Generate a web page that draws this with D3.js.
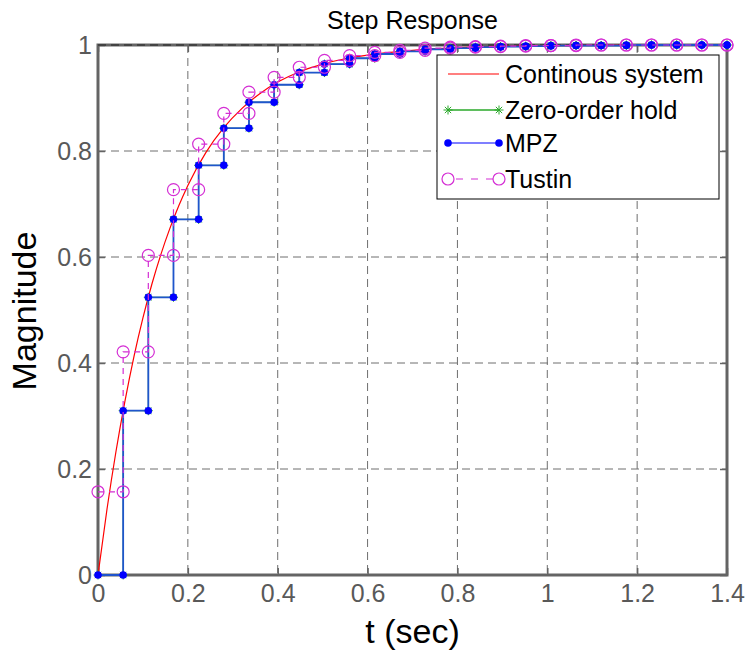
<!DOCTYPE html>
<html>
<head>
<meta charset="utf-8">
<script src="https://cdn.jsdelivr.net/npm/d3@7"></script>
<style>
  body { margin: 0; background: #fff; }
  text { font-family: "Liberation Sans", Arial, sans-serif; }
</style>
</head>
<body>
<div id="chart"></div>
<script>
// sample instants (T = 0.056 s)
var sampleT = [0, 0.056, 0.112, 0.168, 0.224, 0.28, 0.336, 0.392, 0.448, 0.504, 0.56, 0.616, 0.672,
  0.728, 0.784, 0.84, 0.896, 0.952, 1.008, 1.064, 1.12, 1.176, 1.232, 1.288, 1.344, 1.4];

var zohValues = [0, 0.31, 0.524, 0.671, 0.773, 0.843, 0.892, 0.925, 0.948, 0.964, 0.975, 0.983, 0.988,
  0.992, 0.994, 0.996, 0.997, 0.998, 0.999, 0.999, 0.999, 1, 1, 1, 1, 1];

var mpzValues = [0, 0.31, 0.524, 0.671, 0.773, 0.843, 0.892, 0.925, 0.948, 0.964, 0.975, 0.983, 0.988,
  0.992, 0.994, 0.996, 0.997, 0.998, 0.999, 0.999, 0.999, 1, 1, 1, 1, 1];

var tustinValues = [0.157, 0.421, 0.603, 0.727, 0.813, 0.871, 0.911, 0.939, 0.958, 0.971, 0.98, 0.986, 0.99,
  0.994, 0.996, 0.997, 0.998, 0.999, 0.999, 1, 1, 1, 1, 1, 1, 1];

// continuous response
var contT = [0, 0.02, 0.04, 0.06, 0.08, 0.1, 0.12, 0.14, 0.16, 0.18, 0.2, 0.24, 0.28, 0.32, 0.36, 0.4,
  0.45, 0.5, 0.55, 0.6, 0.7, 0.8, 0.9, 1.0, 1.2, 1.4];
var contValues = [0, 0.124, 0.233, 0.328, 0.412, 0.485, 0.549, 0.605, 0.654, 0.697, 0.735, 0.797, 0.844,
  0.88, 0.908, 0.93, 0.95, 0.964, 0.974, 0.981, 0.99, 0.995, 0.9975, 0.9987, 0.9997, 1];

var xTicks = [0, 0.2, 0.4, 0.6, 0.8, 1, 1.2, 1.4];
var xTickLabels = ["0", "0.2", "0.4", "0.6", "0.8", "1", "1.2", "1.4"];
var yTicks = [0, 0.2, 0.4, 0.6, 0.8, 1];
var yTickLabels = ["0", "0.2", "0.4", "0.6", "0.8", "1"];

var legendNames = ["Continous system", "Zero-order hold", "MPZ", "Tustin"];

var W = 746, H = 651;
var margin = {top: 45, right: 19, bottom: 76, left: 98},
  width = W - margin.left - margin.right,
  height = H - margin.top - margin.bottom;

var svg = d3.select("#chart").append("svg")
  .attr("width", W)
  .attr("height", H);

var g = svg.append("g")
  .attr("transform", "translate(" + margin.left + "," + margin.top + ")");

var x = d3.scaleLinear().domain([0, 1.4]).range([0, width]);
var y = d3.scaleLinear().domain([0, 1]).range([height, 0]);

var axisGray = "#646464";

// grid
g.append("g").selectAll("line")
  .data(xTicks).enter().append("line")
  .attr("x1", function(d) { return x(d); })
  .attr("x2", function(d) { return x(d); })
  .attr("y1", 0).attr("y2", height)
  .style("stroke", "#6e6e6e").style("stroke-width", 1)
  .style("stroke-dasharray", "8,5");

g.append("g").selectAll("line")
  .data(yTicks).enter().append("line")
  .attr("x1", 0).attr("x2", width)
  .attr("y1", function(d) { return y(d); })
  .attr("y2", function(d) { return y(d); })
  .style("stroke", "#6e6e6e").style("stroke-width", 1)
  .style("stroke-dasharray", "8,5");

// axes (ticks point inward)
g.append("g")
  .attr("transform", "translate(0," + height + ")")
  .call(d3.axisBottom(x).tickValues(xTicks)
    .tickFormat(function(d, i) { return xTickLabels[i]; })
    .tickSize(-7).tickPadding(9));

g.append("g")
  .call(d3.axisLeft(y).tickValues(yTicks)
    .tickFormat(function(d, i) { return yTickLabels[i]; })
    .tickSize(-7).tickPadding(6));

g.append("g")
  .call(d3.axisTop(x).tickValues(xTicks).tickFormat("").tickSize(-7));

g.append("g")
  .attr("transform", "translate(" + width + ",0)")
  .call(d3.axisRight(y).tickValues(yTicks).tickFormat("").tickSize(-7));

g.selectAll(".domain").remove();
g.selectAll(".tick line").style("stroke", axisGray).style("stroke-width", 1.5);
g.selectAll(".tick text")
  .style("font-size", "25px")
  .style("fill", "#595959")
  .style("font-family", "Liberation Sans, Arial, sans-serif");

// frame
g.append("rect")
  .attr("x", 0).attr("y", 0)
  .attr("width", width).attr("height", height)
  .style("fill", "none")
  .style("stroke", axisGray)
  .style("stroke-width", 3);

g.append("line")
  .attr("x1", 0).attr("x2", width).attr("y1", 0).attr("y2", 0)
  .style("stroke", "#222").style("stroke-width", 1)
  .style("stroke-dasharray", "8,5");

// staircase vertices
function stairs(ts, vs) {
  var pts = [];
  for (var i = 0; i < ts.length; i++) {
    if (i > 0) pts.push([ts[i], vs[i - 1]]);
    pts.push([ts[i], vs[i]]);
  }
  return pts;
}

var line = d3.line()
  .x(function(d) { return x(d[0]); })
  .y(function(d) { return y(d[1]); });

var red = "#ff0000", green = "#2aa82a", blue = "#0000ff", magenta = "#d42ed4";

function starPath(s) {
  var d = s * 0.7;
  return "M" + (-s) + ",0L" + s + ",0M0," + (-s) + "L0," + s +
    "M" + (-d) + "," + (-d) + "L" + d + "," + d + "M" + (-d) + "," + d + "L" + d + "," + (-d);
}

// continuous
var contData = contT.map(function(t, i) { return [t, contValues[i]]; });
g.append("path")
  .datum(contData)
  .attr("d", d3.line().x(function(d) { return x(d[0]); }).y(function(d) { return y(d[1]); })
    .curve(d3.curveMonotoneX))
  .style("fill", "none").style("stroke", red).style("stroke-width", 1.2);

// zero-order hold
var zohPts = stairs(sampleT, zohValues);
g.append("path").datum(zohPts).attr("d", line)
  .style("fill", "none").style("stroke", green).style("stroke-width", 1);
g.append("g").selectAll("path").data(zohPts).enter().append("path")
  .attr("transform", function(d) { return "translate(" + x(d[0]) + "," + y(d[1]) + ")"; })
  .attr("d", starPath(4.5))
  .style("fill", "none").style("stroke", green).style("stroke-width", 1);

// MPZ
var mpzPts = stairs(sampleT, mpzValues);
g.append("path").datum(mpzPts).attr("d", line)
  .style("fill", "none").style("stroke", "#1f55cc").style("stroke-width", 1.8);
g.append("g").selectAll("circle").data(mpzPts).enter().append("circle")
  .attr("cx", function(d) { return x(d[0]); })
  .attr("cy", function(d) { return y(d[1]); })
  .attr("r", 3.8)
  .style("fill", blue);

// Tustin
var tusPts = stairs(sampleT, tustinValues);
g.append("path").datum(tusPts).attr("d", line)
  .style("fill", "none").style("stroke", magenta).style("stroke-width", 1.2)
  .style("stroke-dasharray", "6,5");
g.append("g").selectAll("circle").data(tusPts).enter().append("circle")
  .attr("cx", function(d) { return x(d[0]); })
  .attr("cy", function(d) { return y(d[1]); })
  .attr("r", 6)
  .style("fill", "none").style("stroke", magenta).style("stroke-width", 1.2);

// legend
var lg = svg.append("g").attr("transform", "translate(437,55)");
lg.append("rect")
  .attr("width", 282).attr("height", 144)
  .style("fill", "#fff").style("stroke", "#000").style("stroke-width", 1);

var rowY = [19, 55, 88, 124];
var lx1 = 11, lx2 = 62;

lg.selectAll("text.lab").data(legendNames).enter().append("text")
  .attr("x", 68)
  .attr("y", function(d, i) { return rowY[i]; })
  .attr("dy", "0.35em")
  .style("font-size", "25px")
  .style("fill", "#000")
  .text(function(d) { return d; });

// row 0: continuous
lg.append("line").attr("x1", lx1).attr("x2", lx2).attr("y1", rowY[0]).attr("y2", rowY[0])
  .style("stroke", red).style("stroke-width", 1.2);
// row 1: zoh
lg.append("line").attr("x1", lx1).attr("x2", lx2).attr("y1", rowY[1]).attr("y2", rowY[1])
  .style("stroke", green).style("stroke-width", 1.5);
[lx1, lx2].forEach(function(px) {
  lg.append("path").attr("transform", "translate(" + px + "," + rowY[1] + ")")
    .attr("d", starPath(4.5)).style("fill", "none").style("stroke", green).style("stroke-width", 1);
});
// row 2: mpz
lg.append("line").attr("x1", lx1).attr("x2", lx2).attr("y1", rowY[2]).attr("y2", rowY[2])
  .style("stroke", blue).style("stroke-width", 1.2);
[lx1, lx2].forEach(function(px) {
  lg.append("circle").attr("cx", px).attr("cy", rowY[2]).attr("r", 3.8).style("fill", blue);
});
// row 3: tustin
lg.append("line").attr("x1", lx1).attr("x2", lx2).attr("y1", rowY[3]).attr("y2", rowY[3])
  .style("stroke", magenta).style("stroke-width", 1.2).style("stroke-dasharray", "7,8")
  .style("stroke-dashoffset", -8);
[lx1, lx2].forEach(function(px) {
  lg.append("circle").attr("cx", px).attr("cy", rowY[3]).attr("r", 6)
    .style("fill", "none").style("stroke", magenta).style("stroke-width", 1.2);
});

// titles
svg.append("text")
  .attr("x", margin.left + width / 2)
  .attr("y", 29)
  .attr("text-anchor", "middle")
  .style("font-size", "25px")
  .style("fill", "#000")
  .text("Step Response");

svg.append("text")
  .attr("x", margin.left + width / 2)
  .attr("y", 643)
  .attr("text-anchor", "middle")
  .style("font-size", "34px")
  .style("fill", "#000")
  .text("t (sec)");

svg.append("text")
  .attr("transform", "translate(36," + 311 + ") rotate(-90)")
  .attr("text-anchor", "middle")
  .style("font-size", "34px")
  .style("fill", "#000")
  .text("Magnitude");
</script>
</body>
</html>
